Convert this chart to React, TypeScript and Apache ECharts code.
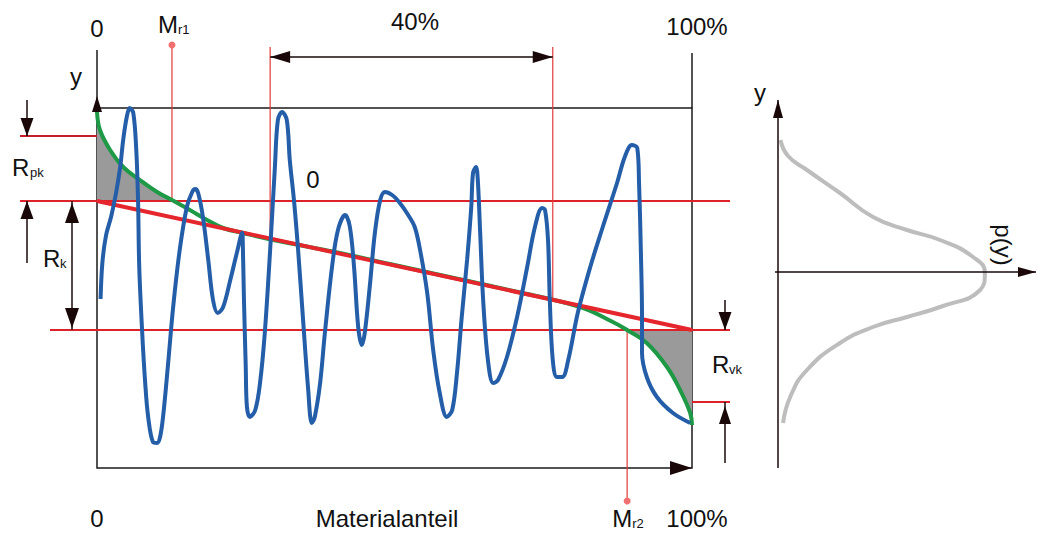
import React, { useEffect, useRef } from "react";
import * as echarts from "echarts";

// Surface profile (x: position / Materialanteil in %, y: height)
const profile: number[][] = [
  [0.6, 16.9], [0.9, 20.5], [1.5, 23.2], [2.4, 25.2], [3.2, 27.5], [3.9, 30.1], [4.4, 32.8], [5.0, 35.1],
  [5.5, 36.0], [6.1, 35.5], [6.6, 31.8], [6.9, 26.8], [7.1, 20.1], [7.6, 13.5], [8.1, 8.5], [8.6, 5.1],
  [9.4, 2.6], [10.1, 2.5], [10.6, 3.1], [11.1, 5.1], [11.9, 10.1], [12.8, 16.1], [13.9, 21.8], [15.1, 26.1],
  [16.0, 27.6], [16.5, 27.9], [17.0, 27.5], [17.8, 25.1], [18.7, 20.8], [19.5, 16.8], [20.3, 15.5],
  [21.2, 16.1], [22.4, 18.8], [23.5, 21.5], [24.4, 23.5], [24.5, 22.5], [24.7, 16.8], [25.0, 10.1],
  [25.2, 6.1], [25.7, 5.1], [26.6, 5.8], [27.4, 8.5], [28.2, 13.5], [29.1, 21.8], [29.9, 30.1],
  [30.4, 34.8], [31.1, 35.6], [31.9, 34.8], [32.4, 30.8], [33.1, 26.8], [33.8, 21.8], [34.6, 15.1],
  [35.5, 7.8], [36.1, 4.5], [36.6, 5.1], [37.5, 8.5], [38.3, 13.5], [39.5, 20.1], [40.5, 23.8],
  [41.7, 25.3], [42.5, 24.1], [43.2, 20.1], [43.9, 14.1], [44.5, 12.3], [45.0, 13.5], [45.9, 18.5],
  [46.7, 23.5], [47.6, 26.8], [48.4, 27.6], [49.6, 27.3], [50.9, 26.5], [52.3, 25.3], [53.4, 24.1],
  [54.3, 21.8], [55.5, 17.5], [56.5, 11.8], [57.6, 7.5], [58.8, 5.1], [59.7, 5.8], [60.5, 9.5],
  [61.3, 15.1], [62.2, 20.8], [62.9, 26.1], [63.2, 29.5], [63.7, 30.1], [64.0, 28.8], [64.4, 23.5],
  [64.9, 16.8], [65.7, 10.8], [66.6, 8.5], [67.4, 8.8], [68.9, 11.1], [70.6, 15.1], [72.3, 20.1],
  [73.6, 24.1], [74.8, 26.0], [75.3, 25.8], [75.8, 22.8], [76.1, 16.8], [76.6, 10.8], [77.3, 9.1],
  [78.2, 9.1], [79.2, 10.8], [80.8, 15.5], [82.9, 20.1], [85.0, 24.1], [87.4, 28.5], [88.7, 31.1],
  [89.9, 32.3], [90.8, 32.0], [91.1, 28.5], [91.4, 21.8], [91.6, 15.1], [91.6, 11.5], [92.4, 9.1],
  [94.1, 7.1], [96.8, 5.5], [99.7, 4.5],
];

// Material ratio (Abbott) curve
const abbottCurve: number[][] = [
  [0, 35.6], [0.5, 33.8], [2.2, 31.8], [4.4, 30.1], [7.2, 28.8], [10.1, 27.6], [12.6, 26.8],
  [15.6, 25.8], [18.5, 24.8], [21.2, 24.0], [24.5, 23.5], [29.6, 22.8], [40, 21.6], [50, 20.3],
  [60, 19.0], [70, 17.7], [81.2, 16.1], [86.7, 14.6], [89.1, 13.8], [92.4, 12.5], [95.8, 10.1],
  [98.0, 7.8], [99.7, 5.5], [100, 4.3],
];

// Amplitude density p(y)
const distribution: number[][] = [
  [0.01, 32.8], [0.04, 31.2], [0.115, 29.8], [0.246, 27.5], [0.377, 25.1], [0.512, 23.8], [0.643, 22.8],
  [0.774, 21.1], [0.821, 19.5], [0.802, 17.8], [0.643, 16.1], [0.512, 15.1], [0.377, 14.1],
  [0.246, 12.5], [0.115, 9.8], [0.05, 7.2], [0.02, 4.5],
];

const rpkTop = 33.2;
const rkTop = 26.7;
const rkBottom = 13.8;
const rvkBottom = 6.6;
const mr1 = 12.6;
const mr2 = 89.1;
const span40: number[] = [29.1, 76.6];
const secantLine: number[][] = [[0, rkTop], [100, rkBottom]];

const FONT = "'Liberation Sans', Arial, sans-serif";
const RED = "#dc2329";
const DARK = "#1a0808";

export default function App() {
  const ref = useRef<HTMLDivElement>(null);

  useEffect(() => {
    const chart = echarts.init(ref.current!, null, { renderer: "svg" });

    const upperArea = [...abbottCurve.filter((p) => p[0] <= mr1), [mr1, rkTop], [0, rkTop]];
    const lowerArea = [[mr2, rkBottom], ...abbottCurve.filter((p) => p[0] >= mr2), [100, rkBottom]];

    const polySeries = (pts: number[][]) => ({
      type: "custom",
      xAxisIndex: 0,
      yAxisIndex: 0,
      data: [[0, 0]],
      silent: true,
      z: 1,
      renderItem: (_p: any, api: any) => ({
        type: "polygon",
        shape: { points: pts.map((p) => api.coord(p)) },
        style: { fill: "#9a9a9a" },
      }),
    });

    chart.setOption({
      animation: false,
      grid: [
        { left: 97, right: 351, top: 108, bottom: 65, show: true, borderColor: "#1a1a1a", borderWidth: 1.5 },
        { left: 778, right: 13, top: 108, bottom: 65 },
      ],
      xAxis: [
        { type: "value", min: 0, max: 100, show: false, gridIndex: 0 },
        { type: "value", min: 0, max: 1, show: false, gridIndex: 1 },
      ],
      yAxis: [
        { type: "value", min: 0, max: 36, show: false, gridIndex: 0 },
        { type: "value", min: 0, max: 36, show: false, gridIndex: 1 },
      ],
      series: [
        polySeries(upperArea),
        polySeries(lowerArea),
        {
          type: "line", xAxisIndex: 0, yAxisIndex: 0, data: abbottCurve, smooth: 0.4, showSymbol: false,
          lineStyle: { color: "#1e9a46", width: 4 }, z: 3, silent: true,
        },
        {
          type: "line", xAxisIndex: 0, yAxisIndex: 0, data: secantLine, showSymbol: false,
          lineStyle: { color: "#e5262c", width: 4 }, z: 4, silent: true,
        },
        {
          type: "line", xAxisIndex: 0, yAxisIndex: 0, data: profile, smooth: 0.35, showSymbol: false,
          lineStyle: { color: "#245ea8", width: 4 }, z: 5, silent: true,
        },
        {
          type: "line", xAxisIndex: 1, yAxisIndex: 1, data: distribution, smooth: 0.5, showSymbol: false,
          lineStyle: { color: "#bdbdbd", width: 4 }, z: 3, silent: true,
        },
      ],
    });

    const c = (x: number, y: number) => chart.convertToPixel({ gridIndex: 0 }, [x, y]) as number[];
    const X = (v: number) => c(v, 0)[0];
    const Y = (v: number) => c(0, v)[1];
    const slopeY = (x: number) => Y(rkTop + ((rkBottom - rkTop) * x) / 100);

    const g: any[] = [];
    const line = (x1: number, y1: number, x2: number, y2: number, stroke: string, lw: number, z = 1) =>
      g.push({ type: "line", z, shape: { x1, y1, x2, y2 }, style: { stroke, lineWidth: lw } });
    const head = (tx: number, ty: number, dx: number, dy: number, len = 17, half = 6.5) => {
      const bx = tx - dx * len;
      const by = ty - dy * len;
      g.push({
        type: "polygon", z: 10,
        shape: { points: [[tx, ty], [bx - dy * half, by + dx * half], [bx + dy * half, by - dx * half]] },
        style: { fill: DARK },
      });
    };
    const text = (s: string, x: number, y: number, size = 24, align = "center", rotation = 0) =>
      g.push({
        type: "text", z: 10, x, y, rotation,
        style: {
          text: s, fontSize: size, fontFamily: FONT, fill: "#111",
          textAlign: align, align, textVerticalAlign: "middle", verticalAlign: "middle",
        },
      });

    // red level lines
    line(20, Y(rpkTop), X(0), Y(rpkTop), "#c41e2a", 2);
    line(20, Y(rkTop), 730, Y(rkTop), RED, 2);
    line(50, Y(rkBottom), 730, Y(rkBottom), RED, 2);
    line(X(100), Y(rvkBottom), 730, Y(rvkBottom), RED, 2);

    // red verticals
    line(X(mr1), 45, X(mr1), Y(rkTop), "#e03a3a", 1.2);
    line(X(span40[0]), 47, X(span40[0]), slopeY(span40[0]), "#e03a3a", 1.2);
    line(X(span40[1]), 47, X(span40[1]), slopeY(span40[1]), "#e03a3a", 1.2);
    line(X(mr2), Y(rkBottom), X(mr2), 500, "#e03a3a", 1.2);
    g.push({ type: "circle", z: 2, shape: { cx: X(mr1), cy: 45, r: 3.5 }, style: { fill: "#f07070" } });
    g.push({ type: "circle", z: 2, shape: { cx: X(mr2), cy: 501, r: 3.5 }, style: { fill: "#f07070" } });

    // main axes extensions and arrows
    line(X(0), 50, X(0), Y(36), "#1a1a1a", 1.5, 9);
    head(X(0), 96, 0, -1, 16, 5);
    line(X(100), 53, X(100), Y(36), "#1a1a1a", 1.5, 9);
    head(X(100), Y(0), 1, 0, 22, 7);

    // 40 % dimension arrow
    line(X(span40[0]), 57, X(span40[1]), 57, DARK, 1.5, 9);
    head(X(span40[0]), 57, -1, 0, 20, 6);
    head(X(span40[1]), 57, 1, 0, 20, 6);

    // Rpk arrows
    line(27, 100, 27, Y(rpkTop), DARK, 1.5, 9);
    head(27, Y(rpkTop), 0, 1, 18, 6.5);
    line(27, 263, 27, Y(rkTop), DARK, 1.5, 9);
    head(27, Y(rkTop), 0, -1, 18, 6.5);
    // Rk double arrow
    line(72, Y(rkTop), 72, Y(rkBottom), DARK, 1.5, 9);
    head(72, Y(rkTop) + 2, 0, -1, 20, 7);
    head(72, Y(rkBottom) - 2, 0, 1, 20, 7);
    // Rvk arrows
    line(725, 300, 725, Y(rkBottom), DARK, 1.5, 9);
    head(725, Y(rkBottom), 0, 1, 18, 6.5);
    line(725, 463, 725, Y(rvkBottom), DARK, 1.5, 9);
    head(725, Y(rvkBottom) + 4, 0, -1, 18, 6);

    // right panel axes
    line(778, 468, 778, 100, DARK, 1.5, 9);
    head(778, 100, 0, -1, 18, 5);
    line(775, 272, 1036, 272, DARK, 1.5, 9);
    head(1036, 272, 1, 0, 18, 5);

    // texts
    text("0", X(0), 28);
    text("M", X(mr1) - 4, 24);
    text("r1", X(mr1) + 6, 29, 13, "left");
    text("40%", 415, 21);
    text("100%", 697, 26);
    text("y", 76, 76);
    text("R", 12, 167, 24, "left");
    text("pk", 30, 172, 13, "left");
    text("R", 43, 258, 24, "left");
    text("k", 60, 263, 13, "left");
    text("0", 313, 179);
    text("R", 712, 364, 24, "left");
    text("vk", 729, 369, 13, "left");
    text("0", X(0), 518);
    text("Materialanteil", 387, 518, 24);
    text("M", X(mr2) - 15, 518, 24, "left");
    text("r2", X(mr2) + 5, 523, 13, "left");
    text("100%", 697, 518);
    text("y", 760, 92);
    text("p(y)", 1003, 245, 24, "center", -Math.PI / 2);

    chart.setOption({ graphic: { elements: g } });

    return () => chart.dispose();
  }, []);

  return (
    <div
      ref={ref}
      style={{ position: "fixed", left: 0, top: 0, width: 1043, height: 533, background: "#fff" }}
    />
  );
}
